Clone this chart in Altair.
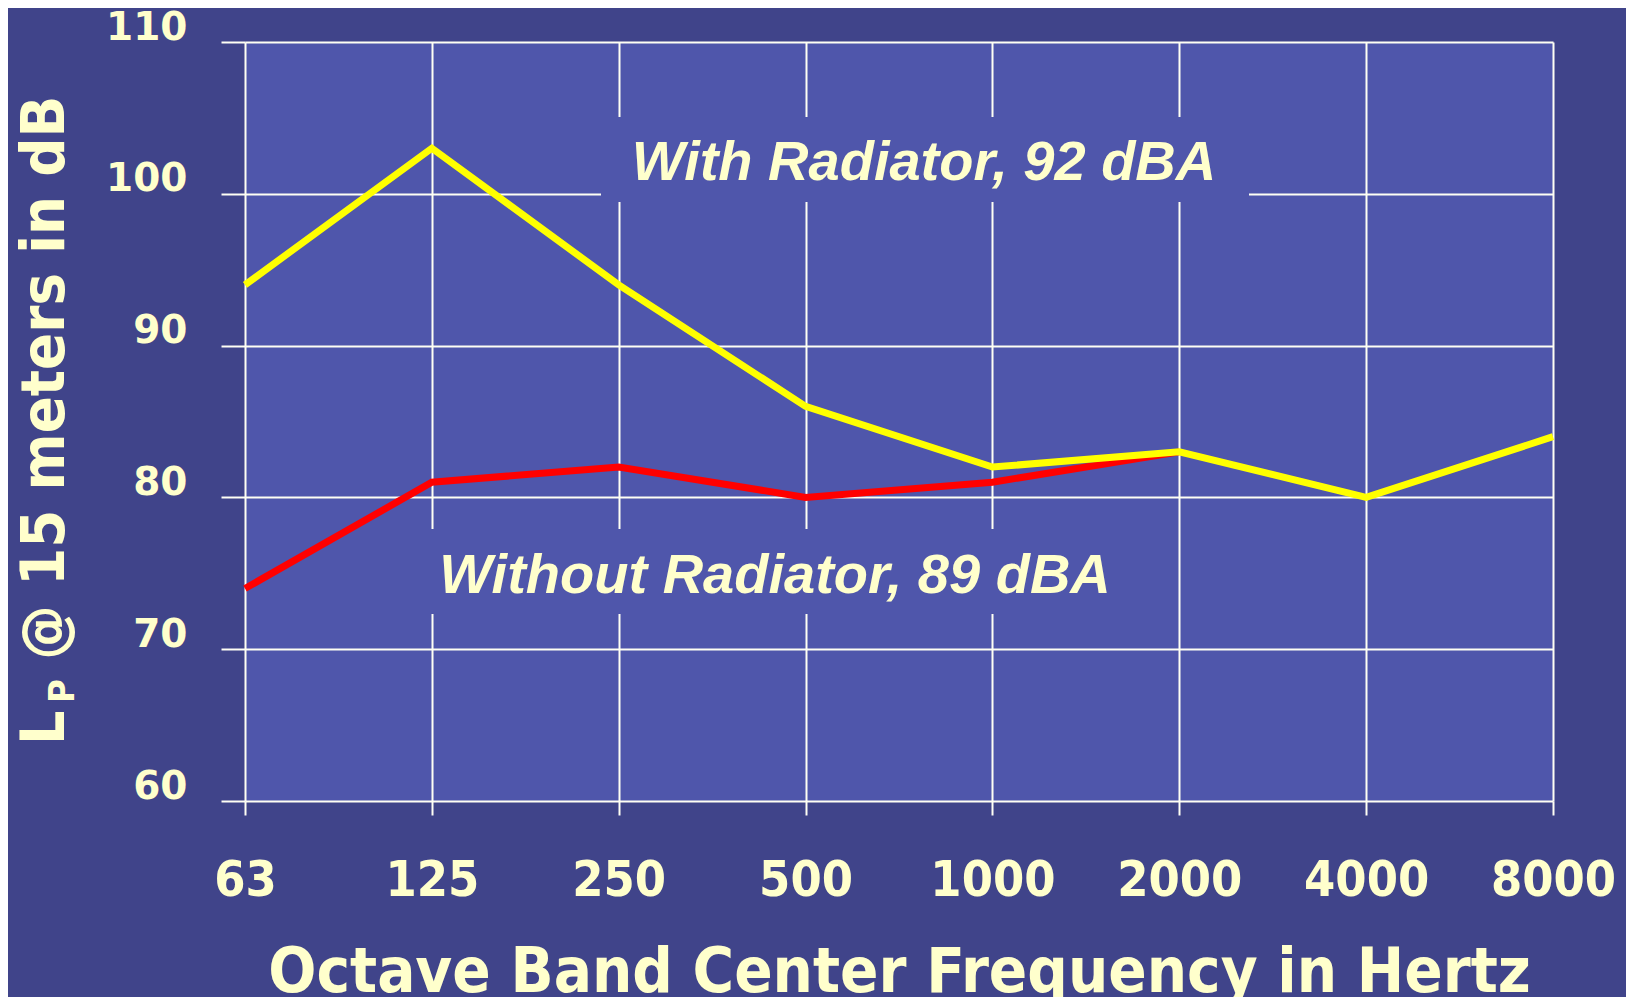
import altair as alt
import pandas as pd

# ---- data ----
freqs = ["63", "125", "250", "500", "1000", "2000", "4000", "8000"]
with_radiator = [94, 103, 94, 86, 82, 83, 80, 84]
without_freqs = ["63", "125", "250", "500", "1000", "2000"]
without_radiator = [74, 81, 82, 80, 81, 83]
y_ticks = [60, 70, 80, 90, 100, 110]
annotations = ["With Radiator, 92 dBA", "Without Radiator, 89 dBA"]
x_title = "Octave Band Center Frequency in Hertz"
y_title_parts = ["L", "P", "@ 15 meters in dB"]

BG = "#40448A"
PLOT = "#4F56AB"
CREAM = "#FFFFCC"
GRID = "#FFFFF4"
YELLOW = "#FFFF00"
RED = "#FF0000"
COND = "DejaVu Sans Condensed, DejaVu Sans, sans-serif"

df_with = pd.DataFrame({"freq": freqs, "level": with_radiator})
df_without = pd.DataFrame({"freq": without_freqs, "level": without_radiator})
one = pd.DataFrame({"k": [0]})

x_enc = alt.X(
    "freq:N",
    sort=freqs,
    scale=alt.Scale(type="point", domain=freqs, padding=0),
    axis=alt.Axis(
        title=x_title,
        labelAngle=0,
        labelFont=COND,
        labelFontSize=50,
        labelFontWeight="bold",
        labelColor=CREAM,
        labelBaseline="alphabetic",
        labelPadding=80,
        labelFlush=False,
        labelOverlap=False,
        tickSize=14,
        tickColor=GRID,
        tickWidth=2,
        domain=False,
        grid=True,
        gridColor=GRID,
        gridWidth=2,
        gridOpacity=1,
        titleFont=COND,
        titleFontSize=63,
        titleFontWeight="bold",
        titleColor=CREAM,
        titleX=654,
        titleY=190,
        titleAlign="center",
        titleBaseline="alphabetic",
    ),
)

y_enc = alt.Y(
    "level:Q",
    scale=alt.Scale(domain=[60, 110], nice=False, zero=False),
    axis=alt.Axis(
        title="",
        values=y_ticks,
        labelFont="DejaVu Sans",
        labelFontSize=39,
        labelFontWeight="bold",
        labelColor=CREAM,
        labelBaseline="alphabetic",
        labelOffset=-3,
        labelPadding=34,
        labelFlush=False,
        labelOverlap=False,
        tickSize=24,
        tickColor=GRID,
        tickWidth=2,
        domain=False,
        grid=True,
        gridColor=GRID,
        gridWidth=2,
        gridOpacity=1,
    ),
)

without_line = alt.Chart(df_without).mark_line(
    color=RED, strokeWidth=7, strokeJoin="miter"
).encode(x=x_enc, y=y_enc)

with_line = alt.Chart(df_with).mark_line(
    color=YELLOW, strokeWidth=7, strokeJoin="miter"
).encode(x=alt.X("freq:N", sort=freqs), y=alt.Y("level:Q"))

box1 = alt.Chart(one).mark_rect(color=PLOT).encode(
    x=alt.value(356), x2=alt.value(1004), y=alt.value(75), y2=alt.value(160)
)
box2 = alt.Chart(one).mark_rect(color=PLOT).encode(
    x=alt.value(175), x2=alt.value(885), y=alt.value(487), y2=alt.value(572)
)

ann_style = dict(
    font="Liberation Sans, Arial, sans-serif",
    fontSize=56,
    fontWeight="bold",
    fontStyle="italic",
    color=CREAM,
    align="center",
    baseline="alphabetic",
)
ann1 = alt.Chart(one).mark_text(text=annotations[0], **ann_style).encode(
    x=alt.value(679), y=alt.value(138)
)
ann2 = alt.Chart(one).mark_text(text=annotations[1], **ann_style).encode(
    x=alt.value(530), y=alt.value(551)
)

ytitle_style = dict(
    font=COND, fontWeight="bold", color=CREAM, angle=270,
    align="left", baseline="alphabetic",
)
yt_L = alt.Chart(one).mark_text(text=y_title_parts[0], fontSize=60, **ytitle_style).encode(
    x=alt.value(-181), y=alt.value(703)
)
yt_P = alt.Chart(one).mark_text(text=y_title_parts[1], fontSize=36, **ytitle_style).encode(
    x=alt.value(-171), y=alt.value(661)
)
yt_rest = alt.Chart(one).mark_text(text=y_title_parts[2], fontSize=61, **ytitle_style).encode(
    x=alt.value(-181), y=alt.value(618)
)

chart = alt.layer(
    without_line, box1, box2, with_line, ann1, ann2, yt_L, yt_P, yt_rest
).properties(
    width=1308,
    height=759,
    autosize=alt.AutoSizeParams(type="none"),
    padding={"left": 237, "top": 34, "right": 73, "bottom": 196},
    background=BG,
).configure_view(fill=PLOT, strokeWidth=0)

chart.save("out.html", embed_options={"renderer": "svg", "actions": False})
